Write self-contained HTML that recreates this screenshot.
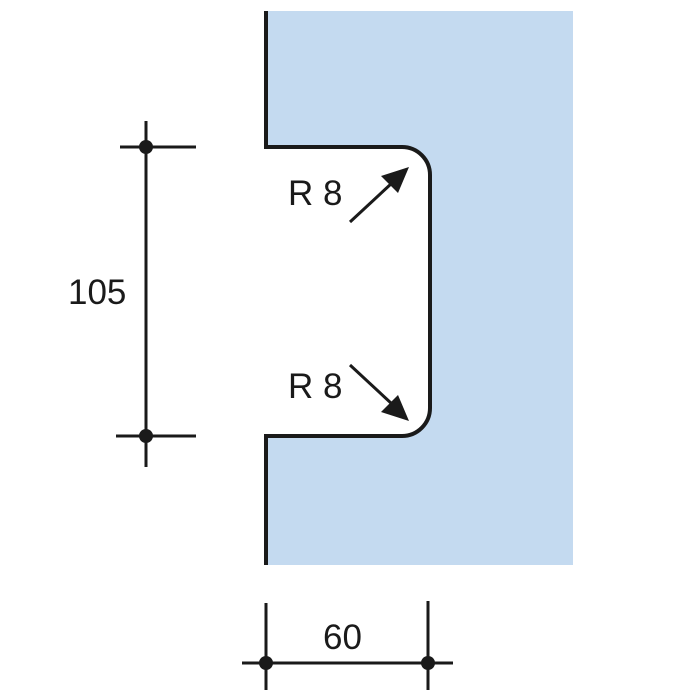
<!DOCTYPE html>
<html><head><style>html,body{margin:0;padding:0;background:#fff}svg{display:block}</style></head>
<body>
<svg width="700" height="700" viewBox="0 0 700 700" xmlns="http://www.w3.org/2000/svg">
<path d="M266,11 H573 V565 H266 V436 H402 A28,28 0 0 0 430,408 V175 A28,28 0 0 0 402,147 H266 Z" fill="#c4daf0"/>
<path d="M266,11 V147 H402 A28,28 0 0 1 430,175 V408 A28,28 0 0 1 402,436 H266 V565" fill="none" stroke="#1a1a1a" stroke-width="4"/>
<g stroke="#1a1a1a" stroke-width="3">
<line x1="146" y1="121" x2="146" y2="467"/>
<line x1="120" y1="147" x2="196" y2="147"/>
<line x1="116" y1="436" x2="196" y2="436"/>
<line x1="242" y1="663" x2="453" y2="663"/>
<line x1="266" y1="603" x2="266" y2="690"/>
<line x1="428" y1="601" x2="428" y2="690"/>
<line x1="350" y1="222" x2="392" y2="183"/>
<line x1="350" y1="365" x2="392" y2="404"/>
</g>
<g fill="#1a1a1a">
<circle cx="146" cy="147" r="7"/><circle cx="146" cy="436" r="7"/>
<circle cx="266" cy="663" r="7"/><circle cx="428" cy="663" r="7"/>
<polygon points="409,167 381,176 398,193"/>
<polygon points="409,421 381,412 398,395"/>
</g>
<g font-family="Liberation Sans, sans-serif" font-size="35" fill="#1a1a1a">
<text x="68" y="304">105</text>
<text x="288" y="205">R 8</text>
<text x="288" y="398">R 8</text>
<text x="323" y="649">60</text>
</g>
</svg>
</body></html>
